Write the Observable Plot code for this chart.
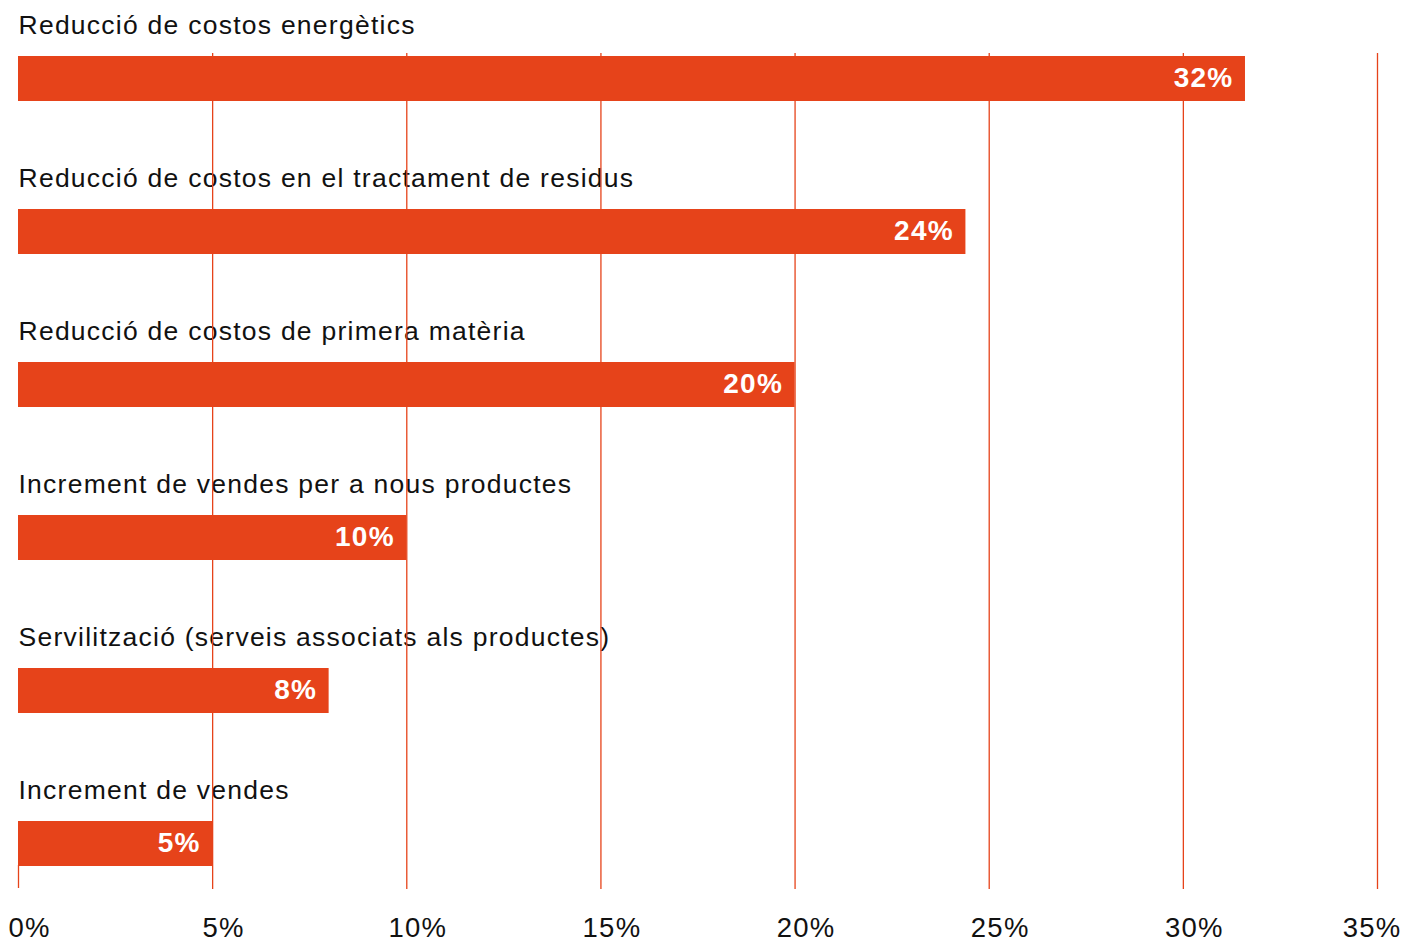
<!DOCTYPE html>
<html>
<head>
<meta charset="utf-8">
<script src="https://cdn.jsdelivr.net/npm/d3@7"></script>
<script src="https://cdn.jsdelivr.net/npm/@observablehq/plot@0.6"></script>
<style>
  html, body { margin: 0; padding: 0; background: #fff; }
  #chart svg { display: block; }
</style>
</head>
<body>
<div id="chart"></div>
<script>
const categories = [
  "Reducció de costos energètics",
  "Reducció de costos en el tractament de residus",
  "Reducció de costos de primera matèria",
  "Increment de vendes per a nous productes",
  "Servilització (serveis associats als productes)",
  "Increment de vendes"
];
const values = [31.6, 24.4, 20, 10, 8, 5];
const valueLabels = ["32%", "24%", "20%", "10%", "8%", "5%"];
const ticks = [0, 5, 10, 15, 20, 25, 30, 35];
const tickLabels = ["0%", "5%", "10%", "15%", "20%", "25%", "30%", "35%"];

const data = categories.map((c, i) => ({cat: c, value: values[i], label: valueLabels[i]}));
const tickData = ticks.map((t, i) => ({t, label: tickLabels[i]}));

const orange = "#e6431a";

const chart = Plot.plot({
  width: 1405,
  height: 942,
  marginTop: 53,
  marginBottom: 53,
  marginLeft: 0,
  marginRight: 0,
  style: "font-family: 'Liberation Sans', Arial, Helvetica, sans-serif; letter-spacing: 1.25px; background: #fff; overflow: visible;",
  x: {domain: [0, 35], range: [18, 1377], axis: null},
  y: {domain: categories, range: [54.5, 866.5], paddingInner: 0.7066, paddingOuter: 0, axis: null},
  marks: [
    Plot.text(data, {
      x: 0, y: "cat", text: "cat", textAnchor: "start", dy: -53,
      fontSize: 26.5, fill: "#111"
    }),
    Plot.ruleX(ticks.filter(t => t > 0), {stroke: orange, strokeWidth: 1.3}),
    Plot.tickX([data[data.length - 1]], {
      x: () => 0, y: "cat", stroke: orange, strokeWidth: 1.3, insetTop: 22, dy: 22
    }),
    Plot.barX(data, {x: "value", y: "cat", fill: orange}),
    Plot.text(data, {
      x: "value", y: "cat", text: "label", textAnchor: "end", dx: -12, dy: -1,
      fill: "#fff", fontWeight: "bold", fontSize: 28
    }),
    Plot.text(tickData.filter(d => d.t < 35), {
      x: "t", y: () => categories[categories.length - 1], text: "label",
      dx: 11, dy: 84, fontSize: 27.5, fill: "#111"
    }),
    Plot.text(tickData.filter(d => d.t === 35), {
      x: "t", y: () => categories[categories.length - 1], text: "label",
      textAnchor: "end", dx: 24, dy: 84, fontSize: 27.5, fill: "#111"
    })
  ]
});
document.getElementById("chart").appendChild(chart);
</script>
</body>
</html>
